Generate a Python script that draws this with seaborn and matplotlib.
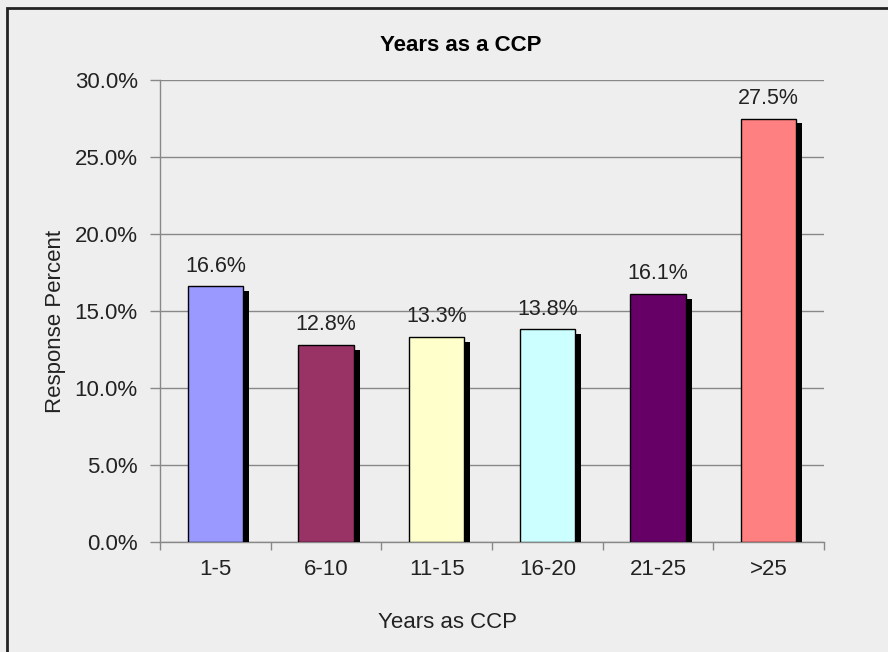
import matplotlib
matplotlib.use("Agg")
import matplotlib.pyplot as plt
import matplotlib.patheffects as pe
from matplotlib.patches import Rectangle
from matplotlib.ticker import PercentFormatter, MultipleLocator, FixedLocator
import pandas as pd
import seaborn as sns

# data
years = ['1-5', '6-10', '11-15', '16-20', '21-25', '>25']
percent = [16.6, 12.8, 13.3, 13.8, 16.1, 27.5]
bar_colors = ['#9999FF', '#993366', '#FFFFCC', '#CCFFFF', '#660066', '#FF8080']

df = pd.DataFrame({'years': years, 'percent': percent})

sns.set_style('white')
plt.rcParams['font.family'] = ['Liberation Sans', 'DejaVu Sans']
bg = '#EEEEEE'
txt = '#222222'

fig = plt.figure(figsize=(8.88, 6.52), dpi=100, facecolor=bg)
ax = fig.add_axes([160/888, 1-542/652, 664/888, 462/652])
ax.set_facecolor(bg)

sns.barplot(data=df, x='years', y='percent', hue='years', palette=bar_colors,
            legend=False, width=0.5, saturation=1, edgecolor='black',
            linewidth=1, ax=ax, zorder=3)

# excel-like drop shadow
shadow = [pe.SimplePatchShadow(offset=(4.3, -3.5), shadow_rgbFace='black', alpha=1),
          pe.Normal()]
for p in ax.patches:
    p.set_path_effects(shadow)

for c in ax.containers:
    ax.bar_label(c, fmt='%.1f%%', padding=7, fontsize=15.5, color=txt)

ax.set_ylim(0, 30)
ax.set_xlim(-0.5, 5.5)
ax.yaxis.set_major_locator(MultipleLocator(5))
ax.yaxis.set_major_formatter(PercentFormatter(decimals=1))
ax.grid(axis='y', color='#888888', linewidth=1, zorder=0)
ax.set_axisbelow(True)

ax.xaxis.set_minor_locator(FixedLocator([i - 0.5 for i in range(len(years) + 1)]))
ax.tick_params(axis='x', which='major', length=0, pad=12, labelsize=16, labelcolor=txt)
ax.tick_params(axis='x', which='minor', length=6, width=1, color='#888888', bottom=True)
ax.tick_params(axis='y', length=7, width=1, color='#888888', pad=9, labelsize=16,
               labelcolor=txt, left=True)

for s in ['top', 'right']:
    ax.spines[s].set_visible(False)
for s in ['left', 'bottom']:
    ax.spines[s].set_color('#888888')
    ax.spines[s].set_linewidth(1)

ax.set_xlabel('')
ax.set_ylabel('')
fig.text(461/888, 1-51/652, 'Years as a CCP', ha='center', va='baseline',
         fontsize=16, fontweight='bold', color='black')
fig.text(447/888, 1-628/652, 'Years as CCP', ha='center', va='baseline',
         fontsize=16, color=txt)
fig.text(61/888, 1-321/652, 'Response Percent', ha='center', va='baseline',
         rotation=90, rotation_mode='anchor', fontsize=16, color=txt)

# outer chart border
fig.patches.append(Rectangle((7/888, -0.1), 1.1, 1 - 8/652 + 0.1, transform=fig.transFigure,
                             fill=False, edgecolor=txt, linewidth=2))

fig.savefig('out.png', dpi=100, facecolor=bg)
